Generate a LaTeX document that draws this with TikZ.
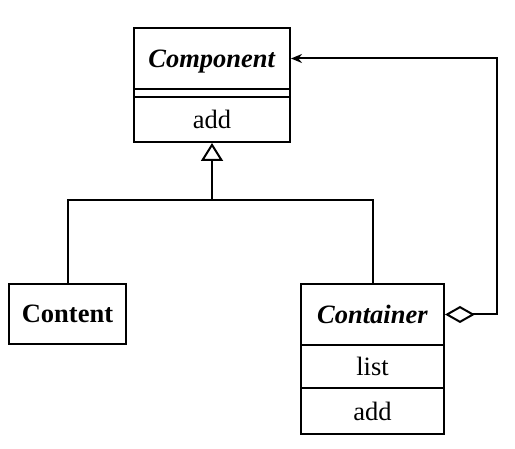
\documentclass[tikz,border=0pt]{standalone}
\usepackage{fontspec}
\setmainfont{Liberation Serif}
\usetikzlibrary{arrows.meta}
\tikzset{
    part/.style={rectangle,draw,line width=2pt,inner sep=0pt,text depth=0pt,minimum width=#1,font=\fontsize{26.5}{30}\selectfont},
    link/.style={line width=2pt},
    inherit/.style={link,-{Triangle[open,width=22pt,length=18pt]}},
    aggregate/.style={link,{Diamond[open,width=17pt,length=30pt]}-{Stealth[length=11pt,width=9pt]}},
}
\begin{document}
\begin{tikzpicture}[x=1pt,y=-1pt]
    \useasboundingbox (0,0) rectangle (515,449);

    % Component
    \node[part=156pt,minimum height=61pt] (compname) at (212,58.5) {\textbf{\textit{Component}}};
    \node[part=156pt,minimum height=8pt] (compattr) at (212,93) {};
    \node[part=156pt,minimum height=45pt] (compop) at (212,119.5) {add};

    % Content
    \node[part=117pt,minimum height=60pt] (content) at (67.5,314) {\textbf{Content}};

    % Container
    \node[part=143pt,minimum height=61pt] (contname) at (372.5,314.5) {\textbf{\textit{Container}}};
    \node[part=143pt,minimum height=43pt] (contlist) at (372.5,366.5) {list};
    \node[part=143pt,minimum height=46pt] (contop) at (372.5,411) {add};

    \coordinate (join) at (212,200);
    \coordinate (bend) at (497,314.5);

    \draw[link] (content.north) |- (join) -| (contname.north);
    \draw[inherit] (join) -- (compop.south);
    \draw[aggregate] (contname.east) -- (bend) |- (compname.east);
\end{tikzpicture}
\end{document}
